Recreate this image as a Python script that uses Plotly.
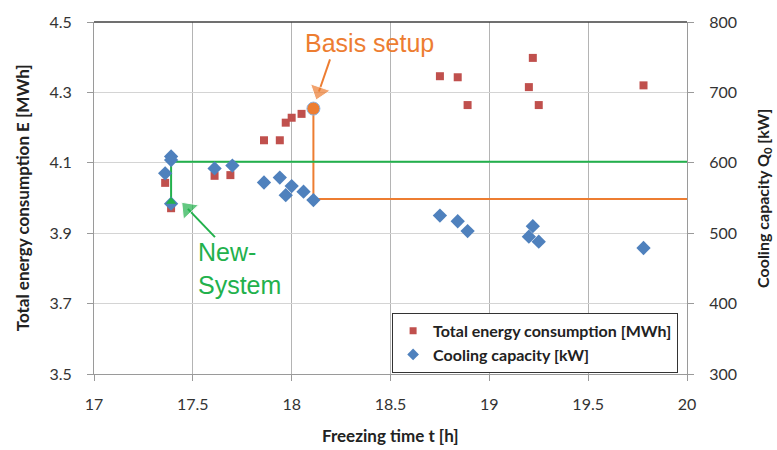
import plotly.graph_objects as go

# Data
energy_t = [17.36, 17.39, 17.61, 17.69, 17.86, 17.94, 17.97, 18.00, 18.05,
            18.75, 18.84, 18.89, 19.20, 19.22, 19.25, 19.78]
energy_E = [4.043, 3.971, 4.063, 4.065, 4.164, 4.164, 4.214, 4.228, 4.239,
            4.346, 4.343, 4.264, 4.315, 4.398, 4.264, 4.320]
cap_t = [17.36, 17.39, 17.39, 17.39, 17.61, 17.70, 17.86, 17.94, 17.97, 18.00, 18.06, 18.11,
         18.75, 18.84, 18.89, 19.20, 19.22, 19.25, 19.78]
cap_Q = [585, 609, 604, 542, 592, 596, 572, 579, 554, 567, 559, 547,
         525, 517, 503, 495, 510, 488, 479]

basis_t = [18.11]
basis_E = [4.254]

new_line_t = [17.39, 17.39, 20.0]
new_line_Q = [542, 601.5, 601.5]
basis_line_t = [18.11, 18.11, 20.0]
basis_line_E = [4.254, 3.997, 3.997]

# annotation arrows (tail -> arrowhead centre), data coordinates on the left axis
basis_arrow_t = [18.194, 18.138]
basis_arrow_E = [4.394, 4.3025]
new_arrow_t = [17.612, 17.475]
new_arrow_E = [3.889, 3.9692]

RED = "#C0504D"
BLUE = "#4F81BD"
GREEN = "#22B14C"
ORANGE = "#ED7D31"
FONT = "Lato"

fig = go.Figure()

fig.add_trace(go.Scatter(x=basis_line_t, y=basis_line_E, mode="lines",
                         line=dict(color=ORANGE, width=2), showlegend=False, hoverinfo="skip"))
fig.add_trace(go.Scatter(x=new_line_t, y=new_line_Q, mode="lines", yaxis="y2",
                         line=dict(color=GREEN, width=2), showlegend=False, hoverinfo="skip"))

fig.add_trace(go.Scatter(x=energy_t, y=energy_E, mode="markers", showlegend=False,
                         marker=dict(symbol="square", size=8, color=RED)))
fig.add_trace(go.Scatter(x=cap_t, y=cap_Q, mode="markers", yaxis="y2", showlegend=False,
                         marker=dict(symbol="diamond", size=11, color=BLUE)))
fig.add_trace(go.Scatter(x=[new_line_t[0]], y=[new_line_Q[0] + 3], mode="markers", yaxis="y2",
                         marker=dict(symbol="triangle-up", size=9, color=GREEN),
                         showlegend=False, hoverinfo="skip"))
fig.add_trace(go.Scatter(x=basis_t, y=basis_E, mode="markers",
                         marker=dict(symbol="circle", size=13, color=ORANGE,
                                     line=dict(color="#8EB4E3", width=1)),
                         showlegend=False, hoverinfo="skip"))

# arrows
for ts, es, col in [(basis_arrow_t, basis_arrow_E, ORANGE), (new_arrow_t, new_arrow_E, GREEN)]:
    fig.add_trace(go.Scatter(x=ts, y=es, mode="lines+markers",
                             line=dict(color=col, width=2),
                             marker=dict(symbol="triangle-up", size=[0, 18], color=col,
                                         angleref="previous"),
                             showlegend=False, hoverinfo="skip"))

# legend entries
fig.add_trace(go.Scatter(x=[None], y=[None], mode="markers",
                         name="Total energy consumption [MWh]",
                         marker=dict(symbol="square", size=7, color=RED)))
fig.add_trace(go.Scatter(x=[None], y=[None], mode="markers",
                         name="Cooling capacity [kW]",
                         marker=dict(symbol="diamond", size=9, color=BLUE)))

tickfont = dict(family=FONT, size=16, color="#333333")
fig.update_layout(
    width=777, height=450,
    margin=dict(l=94, r=90, t=17, b=76),
    paper_bgcolor="white", plot_bgcolor="white",
    xaxis=dict(range=[17, 20], tick0=17, dtick=0.5, showgrid=True, gridcolor="#B4B4B4",
               gridwidth=1, showline=True, linecolor="#9A9A9A", ticks="outside",
               ticklen=6, tickcolor="#9A9A9A", tickfont=tickfont, zeroline=False,
               ticklabelstandoff=10),
    yaxis=dict(range=[3.5, 4.5], tick0=3.5, dtick=0.2, tickformat=".1f", showgrid=True,
               gridcolor="#D4D4D4", showline=True, linecolor="#9A9A9A", ticks="outside",
               ticklen=6, tickcolor="#9A9A9A", tickfont=tickfont, zeroline=False,
               ticklabelstandoff=12),
    yaxis2=dict(range=[300, 800], tick0=300, dtick=100, overlaying="y", side="right",
                showgrid=False, showline=True, linecolor="#9A9A9A", ticks="outside",
                ticklen=6, tickcolor="#9A9A9A", tickfont=tickfont, zeroline=False,
                ticklabelstandoff=12),
    legend=dict(x=0.985, xanchor="right", y=0.174, yanchor="top",
                bgcolor="white", bordercolor="#333333", borderwidth=1,
                font=dict(family=FONT, size=16, color="#222222", weight="bold"),
                tracegroupgap=2, itemwidth=30),
    showlegend=True,
)

fig.add_shape(type="line", xref="paper", yref="paper", x0=0, x1=1, y0=1, y1=1,
              line=dict(color="#404040", width=1.5))

ann = []
ann.append(dict(text="Freezing time t [h]", xref="paper", yref="paper", x=0.5, y=-0.175,
                xanchor="center", yanchor="middle", showarrow=False,
                font=dict(family=FONT, size=17, color="#222222", weight="bold")))
ann.append(dict(text="Total energy consumption E [MWh]", xref="paper", yref="paper",
                x=-0.121, y=0.5, xanchor="center", yanchor="middle", textangle=-90,
                showarrow=False, font=dict(family=FONT, size=17, color="#222222", weight="bold")))
ann.append(dict(text="Cooling capacity Q<sub>0</sub> [kW]", xref="paper", yref="paper",
                x=1.128, y=0.5, xanchor="center", yanchor="middle", textangle=-90,
                showarrow=False, font=dict(family=FONT, size=16, color="#222222", weight="bold")))
ann.append(dict(text="Basis setup", x=18.057, y=4.441, xanchor="left", yanchor="middle",
                showarrow=False, font=dict(family="Liberation Sans", size=25, color=ORANGE)))
ann.append(dict(text="New-<br>System", x=17.516, y=3.80, xanchor="left", yanchor="middle",
                align="left", showarrow=False,
                font=dict(family="Liberation Sans", size=25, color=GREEN)))
fig.update_layout(annotations=ann)

fig.write_html("out.html")
